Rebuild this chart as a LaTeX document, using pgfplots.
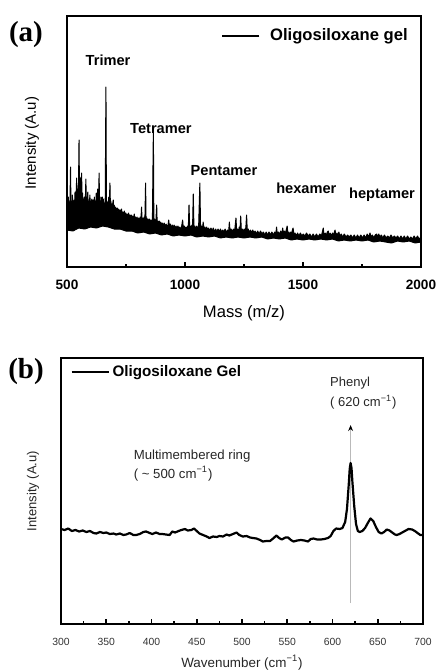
\documentclass[border=0pt]{standalone}
\usepackage{fontspec}
\setmainfont{Liberation Sans}
\newfontfamily\panelfont{Liberation Serif}
\usepackage{pgfplots}
\pgfplotsset{compat=1.18}
\usetikzlibrary{arrows.meta}

\begin{document}
\begin{tikzpicture}
\path[use as bounding box] (0,0) rectangle (217.5pt,-335.5pt);

% ---------------- (a) mass spectrum ----------------
\node[font=\panelfont\bfseries\fontsize{14.5}{16}\selectfont] at (13pt,-17.5pt) {(a)};
\begin{axis}[
  at={(33.5pt,-133.5pt)}, anchor=south west,
  scale only axis, width=177pt, height=125.5pt,
  xmin=500, xmax=2000, ymin=0, ymax=251,
  axis line style={line width=1pt},
  xtick={500,1000,1500,2000}, xticklabels={500,1000,1500,2000},
  minor xtick={750,1250,1750},
  ytick=\empty, xtick pos=left, tick align=inside,
  major tick length=2.5pt, minor tick length=1.5pt,
  every tick/.style={line width=0.8pt, black},
  xticklabel style={font=\fontsize{6.8}{8}\selectfont\bfseries, yshift=-3pt},
  xlabel={Mass (m/z)},
  xlabel style={font=\fontsize{8.3}{10}\selectfont, at={(axis description cs:0.5,-0.183)}, anchor=center},
  ylabel={Intensity (A.u)},
  ylabel style={font=\fontsize{7.5}{9}\selectfont, at={(axis description cs:-0.099,0.494)}, anchor=center},
  legend image code/.code={\draw[line width=0.9pt] (0pt,0pt) -- (18.5pt,0pt);},
  legend style={at={(0.435,0.92)}, anchor=west, draw=none, fill=none, inner sep=0pt,
    nodes={inner sep=0pt}, font=\fontsize{8.3}{10}\selectfont\bfseries,
    /tikz/every odd column/.append style={column sep=5pt}},
]
% upper envelope of the noisy trace (with peaks), then lower envelope back
\addplot[draw=black, line width=0.5pt, fill=black, line join=round] coordinates {
(500,70) (502,50) (504,62) (506,70) (508,52) (510,64) (512,55) (515,100) (517,54) (519,66)
(521,56) (523,72) (525,55) (527,63) (530,67) (532,56) (534,75) (536,58) (538,68) (541,89)
(543,58) (545,78) (547,60) (549,85) (551,127) (553,70) (555,90) (557,62) (559,72) (562,94)
(564,60) (566,74) (568,62) (570,68) (572,59) (574,70) (577,60) (580,88) (582,62) (584,70)
(586,60) (588,75) (590,61) (592,66) (594,59) (597,72) (599,60) (601,66) (603,59) (605,68)
(607,60) (609,63) (611,67) (613,60) (616,70) (618,60) (620,66) (622,59) (624,74) (626,60)
(628,65) (630,78) (632,61) (634,68) (636,94) (638,62) (640,66) (642,60) (644,70) (646,61)
(648,65) (650,70) (652,60) (654,68) (656,60) (658,64) (660,60) (662,66) (665,180) (667,62)
(669,66) (671,60) (673,65) (675,59) (677,70) (679,60) (682,84) (684,60) (686,66) (688,59)
(690,63) (692,58) (694,64) (696,67) (698,57) (700,62)
(703,56) (706,60) (709,55) (713,59) (716,54) (719,58) (722,53) (725,57) (728,53) (731,58)
(734,52) (737,55) (740,51) (743,56) (746,51) (749,54) (752,50) (755,53) (758,49) (761,54)
(764,49) (767,52) (770,48) (773,52) (776,48) (779,51) (782,47) (785,53) (788,47) (791,50)
(794,46) (797,50) (800,46) (803,49) (806,45) (810,50) (813,46) (816,60) (818,46) (821,49)
(824,45) (827,50) (830,46) (833,84) (835,46) (838,49) (841,45) (844,48) (847,44) (850,48)
(853,44) (856,47) (859,44) (862,48) (866,137) (868,45) (871,48) (874,44) (877,47) (880,62)
(882,44) (885,46) (888,43) (891,46) (894,42) (897,45) (900,42)
(904,44) (908,41) (912,44) (916,40) (920,43) (924,40) (928,42) (931,47) (934,40) (938,43)
(942,39) (946,42) (950,39) (954,42) (958,38) (962,41) (966,38) (970,41) (974,38) (978,40)
(982,37) (986,41) (990,47) (993,38) (997,41) (1000,37) (1004,40) (1008,37) (1011,41) (1014,38)
(1017,62) (1020,38) (1023,41) (1026,37) (1029,42) (1032,38) (1035,73) (1038,38) (1042,41) (1046,37)
(1050,41) (1054,37) (1058,42) (1063,84) (1066,38) (1070,41) (1074,37) (1077,45) (1080,38) (1084,40)
(1088,37) (1092,40) (1096,36) (1100,39)
(1105,36) (1110,39) (1115,36) (1120,39) (1125,35) (1130,38) (1135,35) (1140,38) (1145,35) (1150,38)
(1155,35) (1160,37) (1165,35) (1170,38) (1175,34) (1180,37) (1185,35) (1188,45) (1191,35) (1195,38)
(1200,35) (1205,38) (1210,35) (1213,42) (1216,49) (1219,35) (1223,38) (1227,35) (1230,40) (1233,36)
(1236,51) (1239,35) (1243,38) (1247,35) (1251,38) (1255,35) (1258,40) (1261,52) (1264,35) (1268,38)
(1272,34) (1277,37) (1282,34) (1287,37) (1292,34) (1297,36) (1302,33)
(1308,36) (1314,33) (1320,36) (1326,33) (1332,35) (1338,32) (1344,35) (1350,32) (1356,35) (1362,32)
(1368,35) (1374,32) (1380,35) (1385,33) (1388,40) (1391,33) (1396,35) (1401,32) (1405,36) (1410,33)
(1414,39) (1417,33) (1421,36) (1425,33) (1429,37) (1433,41) (1436,33) (1440,35) (1444,32) (1448,35)
(1452,33) (1455,37) (1458,39) (1461,33) (1466,34) (1471,31) (1477,34) (1483,31) (1489,34) (1495,31)
(1501,33)
(1508,31) (1515,34) (1522,31) (1529,33) (1536,30) (1543,33) (1550,30) (1557,33) (1564,30) (1571,33)
(1578,31) (1582,35) (1586,39) (1589,31) (1594,34) (1599,31) (1603,35) (1607,36) (1610,31) (1615,34)
(1620,31) (1625,34) (1630,32) (1633,35) (1636,37) (1639,31) (1644,34) (1648,31) (1652,35) (1656,31)
(1662,33) (1668,30) (1675,33) (1682,30) (1689,32) (1696,30) (1703,32) (1710,29) (1717,32) (1724,29)
(1731,32) (1738,29) (1745,32) (1752,29) (1759,32) (1766,29) (1772,33) (1778,30) (1784,34) (1788,30)
(1794,32) (1800,29) (1806,32) (1812,33) (1816,30) (1821,33) (1826,30) (1832,32) (1838,29) (1845,32)
(1852,29) (1859,31) (1866,29) (1873,32) (1880,29) (1887,31) (1894,29) (1901,31) (1908,28) (1915,31)
(1922,28) (1929,31) (1936,28) (1943,31) (1950,28) (1957,30) (1964,28) (1971,31) (1978,28) (1985,31)
(1992,28) (2000,30)
(2000,25) (1975,24) (1950,26) (1925,25) (1900,26) (1875,24) (1850,25) (1825,26) (1800,25) (1775,27)
(1750,26) (1725,27) (1700,26) (1675,27) (1650,26) (1625,28) (1600,27) (1575,28) (1550,27) (1525,28)
(1500,27) (1475,28) (1450,27) (1425,29) (1400,28) (1375,29) (1350,28) (1325,30) (1300,29) (1275,30)
(1250,29) (1225,30) (1200,29) (1175,30) (1150,29) (1125,31) (1100,30) (1075,31) (1050,30) (1025,32)
(1000,31) (975,32) (950,31) (925,33) (900,32) (875,34) (850,33) (825,35) (800,34) (775,36)
(750,36) (725,38) (700,38) (675,40) (650,41) (625,39) (600,40) (575,38) (550,39) (525,36)
(500,37)
} -- cycle;
\addlegendentry{Oligosiloxane gel}
\node[font=\fontsize{7.3}{9}\selectfont\bfseries] at (axis cs:674,207) {Trimer};
\node[font=\fontsize{7.3}{9}\selectfont\bfseries] at (axis cs:898,138) {Tetramer};
\node[font=\fontsize{7.3}{9}\selectfont\bfseries] at (axis cs:1165,96) {Pentamer};
\node[font=\fontsize{7.3}{9}\selectfont\bfseries] at (axis cs:1514,79) {hexamer};
\node[font=\fontsize{7.3}{9}\selectfont\bfseries] at (axis cs:1835,72) {heptamer};
\end{axis}

% ---------------- (b) Raman spectrum ----------------
\node[font=\panelfont\bfseries\fontsize{14.5}{16}\selectfont] at (13pt,-186pt) {(b)};
\begin{axis}[
  at={(30.5pt,-312pt)}, anchor=south west,
  scale only axis, width=181pt, height=133pt,
  xmin=300, xmax=700, ymin=0, ymax=266,
  axis line style={line width=1pt},
  xtick={300,350,...,700}, xticklabels={300,350,400,450,500,550,600,650,700},
  minor xtick={325,375,...,675},
  ytick=\empty, xtick pos=left, tick align=inside,
  major tick length=2.5pt, minor tick length=1.5pt,
  every tick/.style={line width=0.8pt, black},
  xticklabel style={font=\fontsize{5.2}{6}\selectfont, text=black!80, yshift=-3.5pt},
  xlabel={Wavenumber (cm\textsuperscript{−1})},
  xlabel style={font=\fontsize{6.7}{8}\selectfont, text=black!85, at={(axis description cs:0.5,-0.147)}, anchor=center},
  ylabel={Intensity (A.u)},
  ylabel style={font=\fontsize{6.5}{8}\selectfont, text=black!85, at={(axis description cs:-0.077,0.5)}, anchor=center},
  legend image code/.code={\draw[line width=1.1pt] (0pt,0pt) -- (18.5pt,0pt);},
  legend style={at={(0.025,0.947)}, anchor=west, draw=none, fill=none, inner sep=0pt,
    nodes={inner sep=0pt}, font=\fontsize{7.6}{9}\selectfont\bfseries,
    /tikz/every odd column/.append style={column sep=1.5pt}},
]
\draw[gray!55, line width=0.8pt, -{Stealth[black, length=3pt, width=2.4pt]}] (axis cs:620,21) -- (axis cs:620,199);
\addplot[black, line width=1.1pt, line join=round] coordinates {
(300,95) (304,94) (308,95.5) (312,93) (316,94) (320,92.5) (324,93.5) (328,92) (332,93) (336,91)
(339,90.5) (343,92) (347,91) (350,91.5) (354,90) (358,90.5) (361,89.5) (365,90.5) (369,89) (372,89.5)
(376,91) (380,89) (383,89) (387,90) (391,92) (394,92.5) (398,91) (401,90) (405,91.5) (409,90)
(412,90) (416,89.5) (420,89) (423,92.5) (426,91.5) (430,93) (433,94) (437,95) (440,93.5) (444,94)
(447,95.5) (450,93) (453,90.5) (457,89) (461,87.5) (464,86) (468,87.5) (472,87) (475,88) (479,87.5)
(483,89.5) (486,88.5) (490,90) (494,91.5) (497,89) (501,87.5) (505,88) (509,86.5) (512,86) (516,85.5)
(520,84) (523,82.5) (527,83) (531,83) (535,86) (538,88.5) (541,86) (544,84.5) (548,86.5) (551,86.5)
(554,84) (557,82.5) (561,83.5) (565,84) (569,83.5) (573,82.5) (576,85) (579,85.5) (583,84.5) (587,84.5)
(591,85) (595,86) (598,88) (601,93) (604,95.5) (608,95) (611,96) (614,102) (616,115) (618,140)
(619,155) (620,161) (621,156) (622,142) (624,118) (626,100) (628,93) (630,92) (633,93) (636,96)
(639,101) (642,105.5) (645,103) (648,97) (651,92) (654,90.5) (657,92) (660,94.5) (663,93.5) (666,91.5)
(669,89.5) (671,89) (674,90) (677,91.5) (680,93) (684,95) (688,94.5) (691,93) (694,91) (697,89)
(700,89)
};
\addlegendentry{Oligosiloxane Gel}
\node[anchor=west, inner sep=0pt, font=\fontsize{6.5}{8}\selectfont, text=black!85] at (axis cs:597,241) {Phenyl};
\node[anchor=west, inner sep=0pt, font=\fontsize{6.5}{8}\selectfont, text=black!85] at (axis cs:597,222) {( 620 cm\textsuperscript{−1})};
\node[anchor=west, inner sep=0pt, font=\fontsize{6.6}{8}\selectfont, text=black!85] at (axis cs:380,168) {Multimembered ring};
\node[anchor=west, inner sep=0pt, font=\fontsize{6.6}{8}\selectfont, text=black!85] at (axis cs:380,150) {( \textasciitilde{} 500 cm\textsuperscript{−1})};
\end{axis}
\end{tikzpicture}
\end{document}
